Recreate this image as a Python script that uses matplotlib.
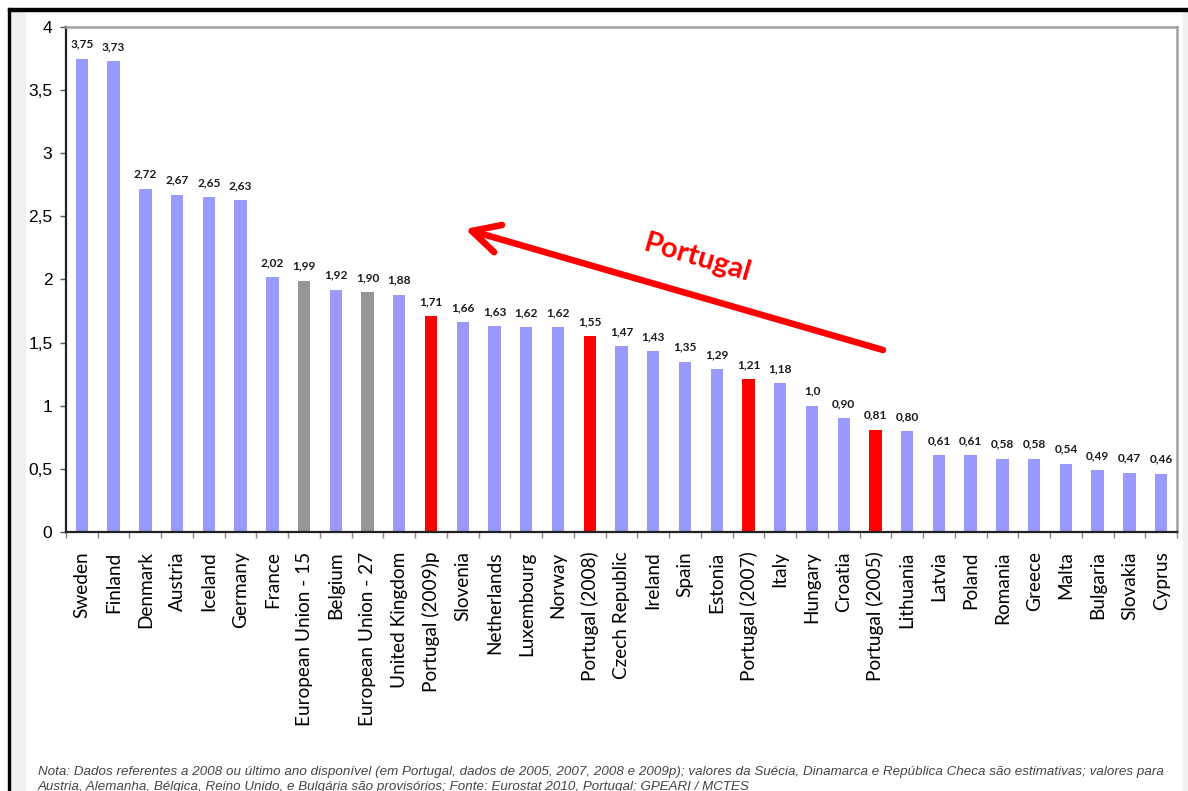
import matplotlib
matplotlib.use("Agg")
import matplotlib.pyplot as plt
from matplotlib.patches import Rectangle

# Gross domestic expenditure on R&D (% of GDP), by country
countries = [
    "Sweden", "Finland", "Denmark", "Austria", "Iceland", "Germany", "France",
    "European Union - 15", "Belgium", "European Union - 27", "United Kingdom",
    "Portugal (2009)p", "Slovenia", "Netherlands", "Luxembourg", "Norway",
    "Portugal (2008)", "Czech Republic", "Ireland", "Spain", "Estonia",
    "Portugal (2007)", "Italy", "Hungary", "Croatia", "Portugal (2005)",
    "Lithuania", "Latvia", "Poland", "Romania", "Greece", "Malta",
    "Bulgaria", "Slovakia", "Cyprus",
]
values = [
    3.75, 3.73, 2.72, 2.67, 2.65, 2.63, 2.02, 1.99, 1.92, 1.90, 1.88,
    1.71, 1.66, 1.63, 1.62, 1.62, 1.55, 1.47, 1.43, 1.35, 1.29, 1.21,
    1.18, 1.0, 0.90, 0.81, 0.80, 0.61, 0.61, 0.58, 0.58, 0.54, 0.49,
    0.47, 0.46,
]
value_labels = [
    "3,75", "3,73", "2,72", "2,67", "2,65", "2,63", "2,02", "1,99", "1,92",
    "1,90", "1,88", "1,71", "1,66", "1,63", "1,62", "1,62", "1,55", "1,47",
    "1,43", "1,35", "1,29", "1,21", "1,18", "1,0", "0,90", "0,81", "0,80",
    "0,61", "0,61", "0,58", "0,58", "0,54", "0,49", "0,47", "0,46",
]
groups = [
    "c", "c", "c", "c", "c", "c", "c", "eu", "c", "eu", "c",
    "pt", "c", "c", "c", "c", "pt", "c", "c", "c", "c", "pt",
    "c", "c", "c", "pt", "c", "c", "c", "c", "c", "c", "c", "c", "c",
]
y_ticks = [0, 0.5, 1, 1.5, 2, 2.5, 3, 3.5, 4]
y_tick_labels = ["0", "0,5", "1", "1,5", "2", "2,5", "3", "3,5", "4"]

group_colors = {"c": "#9999FF", "eu": "#969696", "pt": "#FF0000"}

fig = plt.figure(figsize=(11.88, 7.91), dpi=100)
fig.patch.set_facecolor("white")

# page frame: grey margins and black border lines
fig.patches.append(Rectangle((10 / 1188, 0), 15 / 1188, 781 / 791,
                             transform=fig.transFigure, color="#f0f0f0", zorder=0))
fig.patches.append(Rectangle((1183 / 1188, 0), 5 / 1188, 781 / 791,
                             transform=fig.transFigure, color="#f0f0f0", zorder=0))
fig.patches.append(Rectangle((8 / 1188, 0), 2.2 / 1188, 783 / 791,
                             transform=fig.transFigure, color="black", zorder=1))
fig.patches.append(Rectangle((8 / 1188, 780.5 / 791), 1180 / 1188, 2.5 / 791,
                             transform=fig.transFigure, color="black", zorder=1))

ax = fig.add_axes([66 / 1188, 259 / 791, 1111 / 1188, 505 / 791])
x = list(range(len(countries)))
colors = [group_colors[g] for g in groups]
ax.bar(x, values, width=0.39, color=colors, edgecolor="none", zorder=2)

for xi, v, lab in zip(x, values, value_labels):
    ax.annotate(lab, (xi, v), xytext=(0, 10.5), textcoords="offset points",
                ha="center", va="center", fontsize=8.6, fontfamily="Lato",
                fontweight="bold", color="#1a1a1a")

ax.set_xlim(-0.5, len(countries) - 0.5)
ax.set_ylim(0, 4)
ax.set_yticks(y_ticks)
ax.set_yticklabels(y_tick_labels, fontsize=12.5, fontfamily="Liberation Sans")
ax.tick_params(axis="y", direction="out", length=4.3, width=1, pad=5.5,
               color="#555555")

ax.set_xticks(x)
ax.set_xticklabels(countries, rotation=90, fontsize=13.7, fontfamily="Lato")
ax.tick_params(axis="x", which="major", length=0, pad=14)
ax.set_xticks([i - 0.5 for i in range(len(countries) + 1)], minor=True)
ax.tick_params(axis="x", which="minor", direction="out", length=4.3,
               width=1, color="#888888")

for side in ("left", "bottom"):
    ax.spines[side].set_color("#222222")
    ax.spines[side].set_linewidth(1.6)
for side in ("top", "right"):
    ax.spines[side].set_color("#a0a0a0")
    ax.spines[side].set_linewidth(1.8)

# trend arrow for Portugal across the years
ax.annotate("", xy=(0.3591, 0.600), xycoords="axes fraction",
            xytext=(0.7354, 0.3604), textcoords="axes fraction",
            arrowprops=dict(arrowstyle="->, head_length=0.58, head_width=0.3",
                            color="#FF0000", lw=4.7, mutation_scale=34,
                            shrinkA=0, shrinkB=0, capstyle="round",
                            joinstyle="round"))
ax.text(0.568, 0.5426, "Portugal", transform=ax.transAxes, rotation=-16.5,
        rotation_mode="anchor", ha="center", va="center", fontsize=21,
        fontweight="bold", fontfamily="Lato", color="#FF0000")

note1 = ("Nota: Dados referentes a 2008 ou último ano disponível (em Portugal, "
         "dados de 2005, 2007, 2008 e 2009p); valores da Suécia, Dinamarca e "
         "República Checa são estimativas; valores para")
note2 = ("Austria, Alemanha, Bélgica, Reino Unido, e Bulgária são provisórios; "
         "Fonte: Eurostat 2010, Portugal: GPEARI / MCTES")
fig.text(38 / 1188, 19 / 791, note1, ha="left", va="center", fontsize=9.65,
         fontstyle="italic", fontfamily="Liberation Sans", color="#444444")
fig.text(38 / 1188, 4 / 791, note2, ha="left", va="center", fontsize=9.65,
         fontstyle="italic", fontfamily="Liberation Sans", color="#444444")

fig.savefig("out.png", dpi=100, facecolor="white")
